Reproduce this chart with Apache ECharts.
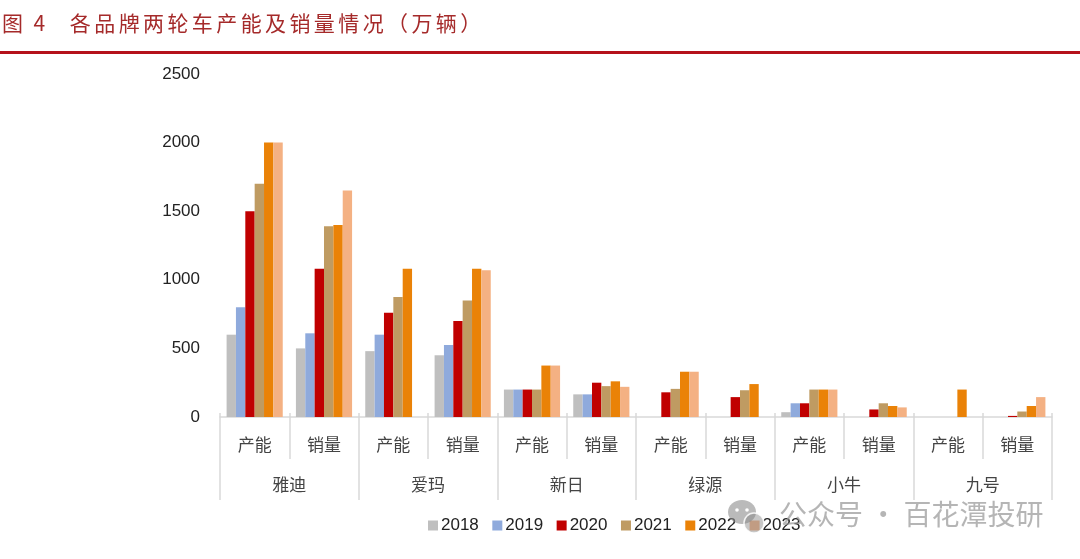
<!DOCTYPE html>
<html>

<head>
    <meta charset="utf-8" />
    <title>各品牌两轮车产能及销量情况</title>
    <script src="https://cdn.jsdelivr.net/npm/echarts@6/dist/echarts.min.js"></script>
    <style>
        html, body { margin: 0; padding: 0; background: #fff; }
        #chart { width: 1080px; height: 559px; }
        #fig_title {
            position: absolute; left: 2px; top: 6px; height: 32px; line-height: 32px;
            font-family: "Noto Sans CJK SC", sans-serif; font-weight: 400; font-size: 21px;
            letter-spacing: 3.4px; word-spacing: -1px; color: #a52a2a; white-space: pre; z-index: 2;
        }
    </style>
</head>

<body>
    <div id="fig_title">图 4   各品牌两轮车产能及销量情况（万辆）</div>
    <div id="chart"></div>
    <script>
        // 数据
        const brands = ['雅迪', '爱玛', '新日', '绿源', '小牛', '九号'];
        const metrics = ['产能', '销量', '产能', '销量', '产能', '销量', '产能', '销量', '产能', '销量', '产能', '销量'];
        const years = ['2018', '2019', '2020', '2021', '2022', '2023'];
        const yTicks = [0, 500, 1000, 1500, 2000, 2500];
        const v2018 = [600, 500, 480, 450, 200, 165, null, null, 35, null, null, null];
        const v2019 = [800, 610, 600, 525, 200, 165, null, null, 100, null, null, null];
        const v2020 = [1500, 1080, 760, 700, 200, 250, 180, 145, 100, 55, null, 8];
        const v2021 = [1700, 1390, 875, 850, 200, 225, 205, 195, 200, 100, null, 40];
        const v2022 = [2000, 1400, 1080, 1080, 375, 260, 330, 240, 200, 80, 200, 80];
        const v2023 = [2000, 1650, null, 1070, 375, 220, 330, null, 200, 70, null, 145];
        const seriesValues = [v2018, v2019, v2020, v2021, v2022, v2023];
        const colors = ['#bfbfbf', '#8faadc', '#c00000', '#bf9b62', '#ea8207', '#f4b183'];

        const fontCn = '"Noto Sans CJK SC", sans-serif';
        const fontEn = '"Liberation Sans", Arial, sans-serif';
        const tickColor = '#d9d9d9';

        var myChart = echarts.init(document.getElementById('chart'));
        option = {
            animation: false,
            grid: { left: 220, right: 28, top: 74, height: 343 },
            legend: {
                left: 423, top: 512,
                itemWidth: 10, itemHeight: 10, itemGap: 13.5,
                icon: 'rect',
                data: years,
                textStyle: { fontFamily: fontEn, fontSize: 17, color: '#222', padding: [0, 0, 0, -2] }
            },
            xAxis: [
                {
                    type: 'category',
                    data: metrics,
                    position: 'bottom',
                    axisLine: { show: true, lineStyle: { color: tickColor, width: 1.5 } },
                    axisTick: { show: true, alignWithLabel: false, length: 42, lineStyle: { color: tickColor, width: 1.5 } },
                    axisLabel: { interval: 0, margin: 19, fontFamily: fontCn, fontSize: 17, color: '#444' }
                },
                {
                    type: 'category',
                    data: brands,
                    position: 'bottom',
                    axisLine: { show: false },
                    axisTick: { show: true, alignWithLabel: false, length: 83, lineStyle: { color: tickColor, width: 1.5 } },
                    axisLabel: { interval: 0, margin: 59, fontFamily: fontCn, fontSize: 17, color: '#444' }
                },
                // 刻度线在轴线上方露出的一小截
                {
                    type: 'category',
                    data: metrics,
                    position: 'bottom',
                    axisLine: { show: false },
                    axisTick: { show: true, inside: true, alignWithLabel: false, length: 4, lineStyle: { color: tickColor, width: 1.5 } },
                    axisLabel: { show: false }
                }
            ],
            yAxis: {
                type: 'value',
                min: yTicks[0],
                max: yTicks[yTicks.length - 1],
                interval: 500,
                axisLine: { show: false },
                axisTick: { show: false },
                splitLine: { show: false },
                axisLabel: {
                    margin: 20, fontFamily: fontEn, fontSize: 17, color: '#222',
                    formatter: function (v) { return String(v); }
                }
            },
            series: years.map(function (year, i) {
                return {
                    name: year,
                    type: 'bar',
                    data: seriesValues[i],
                    barGap: 0,
                    barCategoryGap: '19%',
                    itemStyle: { color: colors[i] }
                };
            }),
            graphic: [
                // 标题下的红线
                { type: 'rect', shape: { x: 0, y: 51, width: 1080, height: 3 }, style: { fill: '#b5121b' } },
                // 水印
                { type: 'ellipse', z: 100, shape: { cx: 742, cy: 512, rx: 14, ry: 12 }, style: { fill: 'rgba(140,140,140,0.6)' } },
                { type: 'circle', z: 101, shape: { cx: 737, cy: 510, r: 1.8 }, style: { fill: '#fff' } },
                { type: 'circle', z: 101, shape: { cx: 747, cy: 510, r: 1.8 }, style: { fill: '#fff' } },
                {
                    type: 'circle', z: 102, shape: { cx: 754, cy: 523, r: 10 },
                    style: { fill: 'rgba(130,130,130,0.45)', stroke: 'rgba(255,255,255,0.85)', lineWidth: 1.5 }
                },
                {
                    type: 'text', z: 100, left: 779, top: 500,
                    style: {
                        text: '公众号 · 百花潭投研',
                        fontFamily: fontCn, fontSize: 28, fontWeight: 400,
                        fill: 'rgba(150,150,150,0.7)'
                    }
                }
            ]
        };
        myChart.setOption(option);
    </script>
</body>

</html>
